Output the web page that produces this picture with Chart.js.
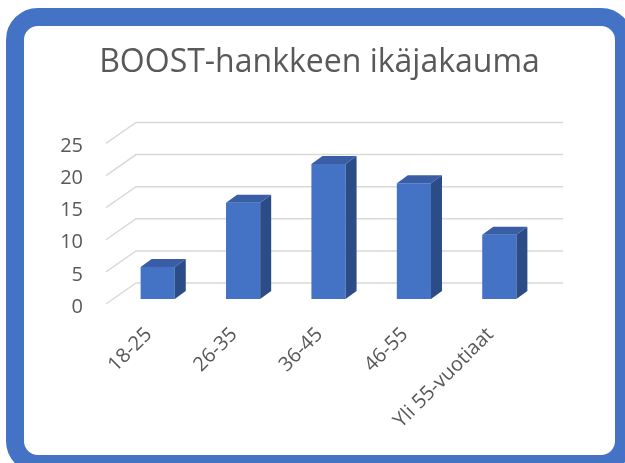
<!DOCTYPE html>
<html>
<head>
<meta charset="utf-8">
<script src="https://cdn.jsdelivr.net/npm/chart.js@4"></script>
<style>
html,body{margin:0;padding:0;overflow:hidden;width:625px;height:463px;background:#fff;}
#frame{position:absolute;left:6px;top:8px;width:591px;height:429px;border:18px solid #4472C4;border-radius:32px;background:#fff;}
canvas{display:block;}
</style>
</head>
<body>
<div id="frame"><canvas id="c" width="591" height="429"></canvas></div>
<script>
const categories = ["18-25", "26-35", "36-45", "46-55", "Yli 55-vuotiaat"];
const values = [5, 15, 21, 18, 10];
const yMin = 0, yMax = 25, yStep = 5;
const titleText = "BOOST-hankkeen ikäjakauma";

const FONT = "'Open Sans', 'Noto Sans', sans-serif";
const GRID_COLOR = '#D9D9D9';
const FRONT = '#4472C4', TOP = '#3A5EA6', SIDE = '#2C4C88';
const WALL_DX = 30, WALL_DY = 21;     // depth of the 3D box
const BAR_SHIFT_X = 9, BAR_SHIFT_Y = -8; // bars sit inside the depth
const BAR_DX = 11, BAR_DY = 8;        // bar depth
const GRID_FRONT_DY = -3;

const threeD = {
  id: 'threeD',
  beforeDatasetsDraw(chart) {
    const {ctx, chartArea, scales} = chart;
    const ys = scales.y;
    ctx.save();
    ctx.strokeStyle = GRID_COLOR;
    ctx.lineWidth = 1.5;
    ys.ticks.forEach(t => {
      const yf = ys.getPixelForValue(t.value) + GRID_FRONT_DY;
      const xf = chartArea.left;
      ctx.beginPath();
      ctx.moveTo(xf, yf);
      ctx.lineTo(xf + WALL_DX, yf - WALL_DY);
      ctx.lineTo(chartArea.right + WALL_DX, yf - WALL_DY);
      ctx.stroke();
    });
    ctx.restore();
  },
  beforeDatasetDraw(chart) {
    chart.ctx.save();
    chart.ctx.translate(BAR_SHIFT_X, BAR_SHIFT_Y);
  },
  afterDatasetDraw(chart, args) {
    const ctx = chart.ctx;
    const meta = args.meta;
    meta.data.forEach(bar => {
      const p = bar.getProps(['x', 'y', 'base', 'width'], true);
      const l = p.x - p.width / 2, r = p.x + p.width / 2;
      ctx.fillStyle = TOP;
      ctx.beginPath();
      ctx.moveTo(l, p.y);
      ctx.lineTo(l + BAR_DX, p.y - BAR_DY);
      ctx.lineTo(r + BAR_DX, p.y - BAR_DY);
      ctx.lineTo(r, p.y);
      ctx.closePath();
      ctx.fill();
      ctx.fillStyle = SIDE;
      ctx.beginPath();
      ctx.moveTo(r, p.y);
      ctx.lineTo(r + BAR_DX, p.y - BAR_DY);
      ctx.lineTo(r + BAR_DX, p.base - BAR_DY);
      ctx.lineTo(r, p.base);
      ctx.closePath();
      ctx.fill();
    });
    ctx.restore();
  }
};

new Chart(document.getElementById('c'), {
  type: 'bar',
  data: {
    labels: categories,
    datasets: [{
      data: values,
      backgroundColor: FRONT,
      borderWidth: 0,
      barPercentage: 0.8,
      categoryPercentage: 0.5,
      clip: false,
      yAxisID: 'y'
    }]
  },
  options: {
    responsive: false,
    animation: false,
    layout: {padding: 0},
    plugins: {
      legend: {display: false},
      tooltip: {enabled: false},
      title: {
        display: true,
        text: titleText,
        color: '#595959',
        font: {family: FONT, size: 32, weight: 'normal'},
        padding: {top: 18, bottom: 64}
      }
    },
    scales: {
      x: {
        grid: {display: false, drawTicks: false},
        border: {display: false},
        ticks: {
          color: '#595959',
          font: {family: FONT, size: 20},
          minRotation: 45, maxRotation: 45,
          padding: 16,
          autoSkip: false
        },
        afterFit(s) { s.height = 148; }
      },
      y: {
        min: yMin, max: yMax,
        grid: {display: false, drawTicks: false},
        border: {display: false},
        ticks: {
          stepSize: yStep,
          color: '#595959',
          font: {family: FONT, size: 20},
          padding: 23
        },
        afterFit(s) { s.width = 82; }
      },
      yRight: {
        position: 'right',
        display: true,
        min: yMin, max: yMax,
        grid: {display: false, drawTicks: false},
        border: {display: false},
        ticks: {display: false},
        afterFit(s) { s.width = 82; }
      }
    }
  },
  plugins: [threeD]
});
</script>
</body>
</html>
